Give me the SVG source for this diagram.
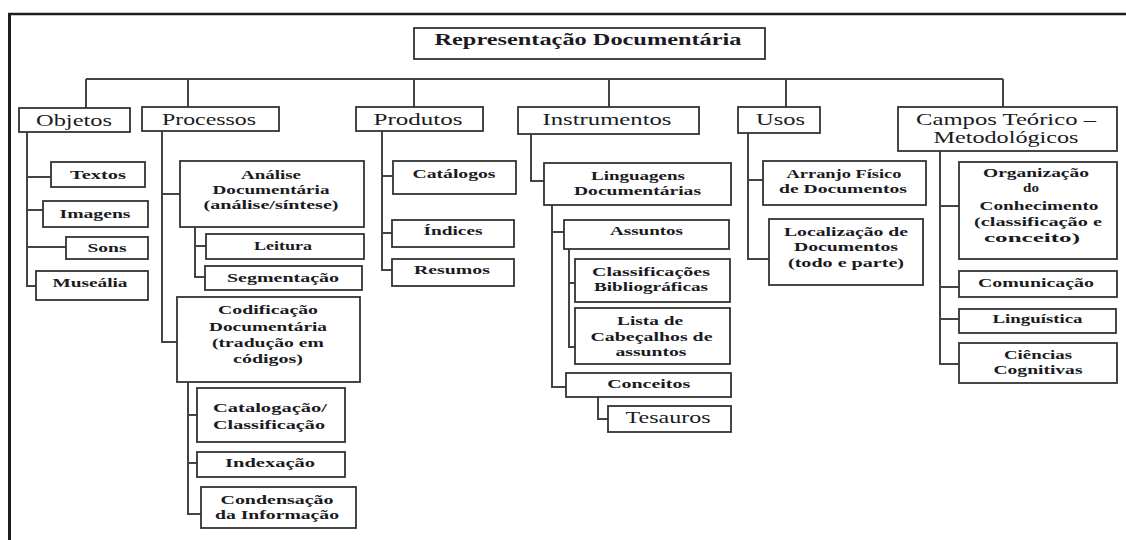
<svg xmlns="http://www.w3.org/2000/svg" width="1126" height="540" viewBox="0 0 1126 540">
<style>
.bg{fill:#ffffff}
.frame{stroke:#1e1e1e;fill:none}
.box{fill:#ffffff;stroke:#333333;stroke-width:1.8}
.wire{fill:none;stroke:#444444;stroke-width:2}
text{text-anchor:middle;fill:#1a1a22}
.title{font-size:17px;font-weight:bold}
.t1{font-size:17px}
.t2{font-size:13.5px;font-weight:bold}
.t3{font-size:16px}
</style>
<rect class="bg" x="0" y="0" width="1126" height="540"/>
<g id="frame">
<line class="frame" x1="8" y1="14" x2="1126" y2="14" stroke-width="2.5"/>
<line class="frame" x1="9.5" y1="13" x2="9.5" y2="540" stroke-width="3"/>
</g>
<g id="connectors">
<path class="wire" d="M86,79 H1003 M86,79 V108 M188,79 V107 M414,79 V107 M609,79 V107 M786,79 V107 M1003,79 V107"/>
<path class="wire" d="M27,132 V286 H36 M27,177 H51 M27,210 H43 M27,247 H66"/>
<path class="wire" d="M162,131 V342 H177 M162,194 H180"/>
<path class="wire" d="M195,227 V277 H205 M195,246 H206"/>
<path class="wire" d="M188,382 V514 H201 M188,415 H197 M188,463 H197"/>
<path class="wire" d="M382,131 V270 H392 M382,176 H393 M382,233 H392"/>
<path class="wire" d="M531,134 V181 H544"/>
<path class="wire" d="M552,205 V387 H566 M552,232 H564"/>
<path class="wire" d="M569,249 V347 H575 M569,283 H575"/>
<path class="wire" d="M598,397 V419 H608"/>
<path class="wire" d="M748,133 V259 H769 M748,180 H763"/>
<path class="wire" d="M940,151 V364 H959 M940,206 H959 M940,287 H959 M940,319 H959"/>
</g>
<g font-family="'Liberation Serif', 'DejaVu Serif', 'Times New Roman', Times, serif">
<g id="n-root"><rect class="box" x="414" y="28" width="351" height="31"/><text class="title" x="588" y="45" textLength="307" lengthAdjust="spacingAndGlyphs">Representação Documentária</text></g>
<g id="n-objetos"><rect class="box" x="19" y="108" width="111" height="24"/><text class="t1" x="74" y="126" textLength="76" lengthAdjust="spacingAndGlyphs">Objetos</text></g>
<g id="n-processos"><rect class="box" x="142" y="107" width="137" height="24"/><text class="t1" x="209" y="125" textLength="94" lengthAdjust="spacingAndGlyphs">Processos</text></g>
<g id="n-produtos"><rect class="box" x="356" y="107" width="127" height="24"/><text class="t1" x="418" y="124.5" textLength="89" lengthAdjust="spacingAndGlyphs">Produtos</text></g>
<g id="n-instrumentos"><rect class="box" x="518" y="107" width="181" height="27"/><text class="t1" x="607" y="124.5" textLength="129" lengthAdjust="spacingAndGlyphs">Instrumentos</text></g>
<g id="n-usos"><rect class="box" x="738" y="107" width="82" height="26"/><text class="t1" x="780.5" y="124.5" textLength="49" lengthAdjust="spacingAndGlyphs">Usos</text></g>
<g id="n-campos"><rect class="box" x="898" y="107" width="219" height="44"/><text class="t1" x="1006" y="124.5" textLength="180" lengthAdjust="spacingAndGlyphs">Campos Teórico –</text><text class="t1" x="1006" y="142.5" textLength="145" lengthAdjust="spacingAndGlyphs">Metodológicos</text></g>
<g id="n-textos"><rect class="box" x="51" y="162" width="94" height="25"/><text class="t2" x="98" y="178.7" textLength="56" lengthAdjust="spacingAndGlyphs">Textos</text></g>
<g id="n-imagens"><rect class="box" x="43" y="201" width="105" height="26"/><text class="t2" x="95" y="217.7" textLength="71" lengthAdjust="spacingAndGlyphs">Imagens</text></g>
<g id="n-sons"><rect class="box" x="66" y="237" width="82" height="22"/><text class="t2" x="107" y="252.3" textLength="39" lengthAdjust="spacingAndGlyphs">Sons</text></g>
<g id="n-musealia"><rect class="box" x="36" y="271" width="112" height="29"/><text class="t2" x="90" y="286.7" textLength="75" lengthAdjust="spacingAndGlyphs">Museália</text></g>
<g id="n-analise"><rect class="box" x="180" y="161" width="184" height="66"/><text class="t2" x="271" y="179" textLength="60" lengthAdjust="spacingAndGlyphs">Análise</text><text class="t2" x="271" y="194.3" textLength="117" lengthAdjust="spacingAndGlyphs">Documentária</text><text class="t2" x="271" y="208.5" textLength="135" lengthAdjust="spacingAndGlyphs">(análise/síntese)</text></g>
<g id="n-leitura"><rect class="box" x="206" y="234" width="158" height="25"/><text class="t2" x="283" y="250" textLength="58" lengthAdjust="spacingAndGlyphs">Leitura</text></g>
<g id="n-segmentacao"><rect class="box" x="205" y="266" width="157" height="24"/><text class="t2" x="283" y="281.7" textLength="112" lengthAdjust="spacingAndGlyphs">Segmentação</text></g>
<g id="n-codificacao"><rect class="box" x="177" y="297" width="183" height="85"/><text class="t2" x="268" y="314.3" textLength="100" lengthAdjust="spacingAndGlyphs">Codificação</text><text class="t2" x="268" y="330.7" textLength="118" lengthAdjust="spacingAndGlyphs">Documentária</text><text class="t2" x="268" y="346.7" textLength="112" lengthAdjust="spacingAndGlyphs">(tradução em</text><text class="t2" x="268" y="362.7" textLength="70" lengthAdjust="spacingAndGlyphs">códigos)</text></g>
<g id="n-catalogacao"><rect class="box" x="197" y="388" width="148" height="54"/><text class="t2" x="270" y="412.3" textLength="114" lengthAdjust="spacingAndGlyphs">Catalogação/</text><text class="t2" x="269" y="429.3" textLength="112" lengthAdjust="spacingAndGlyphs">Classificação</text></g>
<g id="n-indexacao"><rect class="box" x="197" y="452" width="148" height="25"/><text class="t2" x="270" y="466.7" textLength="90" lengthAdjust="spacingAndGlyphs">Indexação</text></g>
<g id="n-condensacao"><rect class="box" x="201" y="487" width="155" height="41"/><text class="t2" x="277" y="504.3" textLength="113" lengthAdjust="spacingAndGlyphs">Condensação</text><text class="t2" x="277" y="519" textLength="124" lengthAdjust="spacingAndGlyphs">da Informação</text></g>
<g id="n-catalogos"><rect class="box" x="393" y="161" width="123" height="33"/><text class="t2" x="454" y="178" textLength="83" lengthAdjust="spacingAndGlyphs">Catálogos</text></g>
<g id="n-indices"><rect class="box" x="392" y="220" width="122" height="27"/><text class="t2" x="453" y="235.3" textLength="59" lengthAdjust="spacingAndGlyphs">Índices</text></g>
<g id="n-resumos"><rect class="box" x="392" y="259" width="122" height="27"/><text class="t2" x="452" y="274.3" textLength="76" lengthAdjust="spacingAndGlyphs">Resumos</text></g>
<g id="n-linguagens"><rect class="box" x="544" y="163" width="187" height="42"/><text class="t2" x="638" y="180" textLength="94" lengthAdjust="spacingAndGlyphs">Linguagens</text><text class="t2" x="637.5" y="195" textLength="127" lengthAdjust="spacingAndGlyphs">Documentárias</text></g>
<g id="n-assuntos"><rect class="box" x="564" y="220" width="165" height="29"/><text class="t2" x="646.5" y="235" textLength="73" lengthAdjust="spacingAndGlyphs">Assuntos</text></g>
<g id="n-classificacoes"><rect class="box" x="575" y="259" width="155" height="43"/><text class="t2" x="651" y="276" textLength="118" lengthAdjust="spacingAndGlyphs">Classificações</text><text class="t2" x="651" y="291" textLength="114" lengthAdjust="spacingAndGlyphs">Bibliográficas</text></g>
<g id="n-lista"><rect class="box" x="575" y="308" width="155" height="56"/><text class="t2" x="650" y="325" textLength="66" lengthAdjust="spacingAndGlyphs">Lista de</text><text class="t2" x="651.5" y="340.7" textLength="122" lengthAdjust="spacingAndGlyphs">Cabeçalhos de</text><text class="t2" x="651" y="356" textLength="71" lengthAdjust="spacingAndGlyphs">assuntos</text></g>
<g id="n-conceitos"><rect class="box" x="566" y="373" width="165" height="24"/><text class="t2" x="648.7" y="388.3" textLength="83" lengthAdjust="spacingAndGlyphs">Conceitos</text></g>
<g id="n-tesauros"><rect class="box" x="608" y="406" width="123" height="26"/><text class="t3" x="668" y="423.3" textLength="85" lengthAdjust="spacingAndGlyphs">Tesauros</text></g>
<g id="n-arranjo"><rect class="box" x="763" y="161" width="163" height="44"/><text class="t2" x="844" y="177.7" textLength="115" lengthAdjust="spacingAndGlyphs">Arranjo Físico</text><text class="t2" x="843" y="192.7" textLength="128" lengthAdjust="spacingAndGlyphs">de Documentos</text></g>
<g id="n-localizacao"><rect class="box" x="769" y="219" width="154" height="66"/><text class="t2" x="846" y="235.7" textLength="124" lengthAdjust="spacingAndGlyphs">Localização de</text><text class="t2" x="846" y="251" textLength="104" lengthAdjust="spacingAndGlyphs">Documentos</text><text class="t2" x="846" y="266.5" textLength="116" lengthAdjust="spacingAndGlyphs">(todo e parte)</text></g>
<g id="n-organizacao"><rect class="box" x="959" y="162" width="158" height="97"/><text class="t2" x="1036" y="176.7" textLength="106" lengthAdjust="spacingAndGlyphs">Organização</text><text class="t2" x="1031" y="192.3" textLength="16" lengthAdjust="spacingAndGlyphs">do</text><text class="t2" x="1039" y="210" textLength="119" lengthAdjust="spacingAndGlyphs">Conhecimento</text><text class="t2" x="1038" y="225.7" textLength="128" lengthAdjust="spacingAndGlyphs">(classificação e</text><text class="t2" x="1032" y="241.7" textLength="96" lengthAdjust="spacingAndGlyphs">conceito)</text></g>
<g id="n-comunicacao"><rect class="box" x="959" y="271" width="158" height="26"/><text class="t2" x="1036" y="286.7" textLength="116" lengthAdjust="spacingAndGlyphs">Comunicação</text></g>
<g id="n-linguistica"><rect class="box" x="959" y="309" width="157" height="24"/><text class="t2" x="1037.5" y="323.3" textLength="90" lengthAdjust="spacingAndGlyphs">Linguística</text></g>
<g id="n-ciencias"><rect class="box" x="959" y="343" width="158" height="40"/><text class="t2" x="1038" y="359.3" textLength="68" lengthAdjust="spacingAndGlyphs">Ciências</text><text class="t2" x="1038" y="374" textLength="89" lengthAdjust="spacingAndGlyphs">Cognitivas</text></g>
</g>
</svg>
